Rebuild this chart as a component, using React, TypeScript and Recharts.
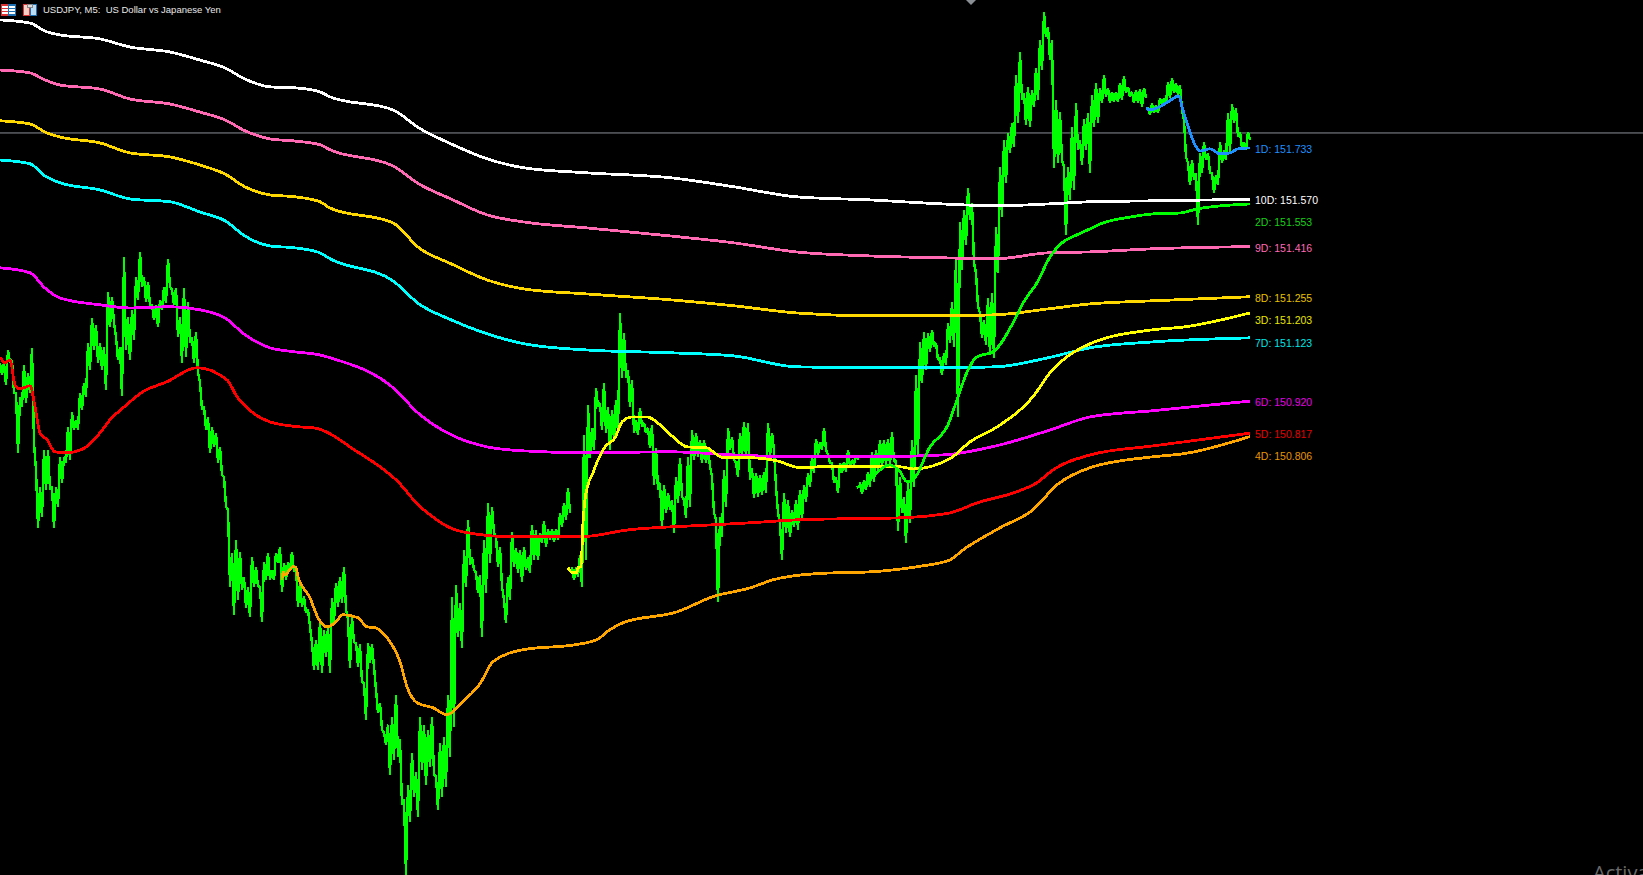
import React from 'react';
import { LineChart, Line, XAxis, YAxis, ReferenceLine, ReferenceDot } from 'recharts';

// USDJPY M5, one high/low pair for every 4 time slots, starting at slot 0
const barHighs = [
  151.043, 151.043, 151.084, 151.052, 150.946, 150.934, 151.036, 151.011, 151.091, 150.699, 150.645, 150.763, 150.763, 150.645, 150.645, 150.741,
  150.741, 150.837, 150.885, 150.860, 150.946, 150.979, 151.107, 151.187, 151.165, 151.107, 151.094, 151.271, 151.255, 151.126, 151.094, 151.383,
  151.190, 151.213, 151.319, 151.399, 151.319, 151.303, 151.229, 151.229, 151.245, 151.287, 151.377, 151.277, 151.284, 151.190, 151.284, 151.239,
  151.126, 151.142, 150.979, 150.902, 150.869, 150.837, 150.818, 150.773, 150.677, 150.571, 150.433, 150.475, 150.436, 150.356, 150.324, 150.420,
  150.388, 150.324, 150.404, 150.433, 150.378, 150.433, 150.452, 150.401, 150.401, 150.436, 150.388, 150.337, 150.292, 150.250, 150.144, 150.154,
  150.218, 150.186, 150.195, 150.288, 150.337, 150.356, 150.388, 150.218, 150.227, 150.144, 150.138, 150.016, 150.144, 150.138, 149.993, 149.951,
  149.855, 149.881, 149.906, 149.977, 149.833, 149.640, 149.688, 149.791, 149.727, 149.906, 149.881, 149.865, 149.906, 149.714, 149.823, 149.842,
  149.977, 150.292, 150.330, 150.272, 150.442, 150.539, 150.420, 150.369, 150.362, 150.475, 150.593, 150.581, 150.484, 150.452, 150.282, 150.356,
  150.500, 150.449, 150.442, 150.452, 150.420, 150.523, 150.507, 150.497, 150.536, 150.507, 150.507, 150.507, 150.561, 150.593, 150.642, 150.388,
  150.385, 150.426, 150.812, 150.908, 150.834, 150.963, 150.914, 150.979, 150.902, 150.892, 150.924, 151.203, 151.139, 151.020, 150.988, 150.860,
  150.898, 150.850, 150.834, 150.844, 150.770, 150.658, 150.651, 150.625, 150.603, 150.677, 150.738, 150.603, 150.741, 150.828, 150.818, 150.796,
  150.796, 150.773, 150.677, 150.539, 150.548, 150.699, 150.834, 150.805, 150.722, 150.818, 150.853, 150.850, 150.706, 150.690, 150.683, 150.693,
  150.850, 150.818, 150.645, 150.529, 150.625, 150.603, 150.571, 150.603, 150.635, 150.651, 150.690, 150.741, 150.799, 150.789, 150.834, 150.747,
  150.722, 150.674, 150.722, 150.725, 150.763, 150.731, 150.747, 150.661, 150.667, 150.693, 150.757, 150.763, 150.796, 150.796, 150.799, 150.821,
  150.731, 150.677, 150.613, 150.658, 150.796, 151.004, 151.110, 151.142, 151.139, 151.149, 151.107, 151.059, 151.075, 151.171, 151.239, 151.383,
  151.495, 151.534, 151.605, 151.556, 151.332, 151.203, 151.181, 151.251, 151.267, 151.479, 151.672, 151.759, 151.781, 151.813, 151.967, 152.041,
  151.909, 151.929, 151.919, 151.990, 152.080, 152.169, 152.121, 152.080, 151.887, 151.848, 151.672, 151.672, 151.800, 151.877, 151.759, 151.826,
  151.845, 151.903, 151.942, 151.926, 151.967, 151.926, 151.913, 151.913, 151.942, 151.964, 151.929, 151.913, 151.919, 151.922, 151.926, 151.865,
  151.877, 151.871, 151.893, 151.893, 151.945, 151.958, 151.942, 151.935, 151.823, 151.685, 151.694, 151.653, 151.717, 151.752, 151.717, 151.653,
  151.646, 151.752, 151.726, 151.845, 151.874, 151.861, 151.784, 151.752, 151.784,
];
const barLows = [
  151.004, 150.972, 151.043, 150.946, 150.754, 150.902, 150.914, 150.946, 150.786, 150.513, 150.548, 150.635, 150.635, 150.513, 150.581, 150.658,
  150.722, 150.731, 150.828, 150.828, 150.892, 150.934, 151.020, 151.084, 151.043, 151.020, 150.956, 151.158, 151.171, 151.052, 150.937, 151.084,
  151.052, 151.117, 151.245, 151.287, 151.239, 151.229, 151.181, 151.158, 151.213, 151.235, 151.287, 151.229, 151.126, 151.043, 151.062, 151.107,
  151.043, 151.011, 150.892, 150.828, 150.754, 150.773, 150.722, 150.683, 150.581, 150.324, 150.234, 150.282, 150.314, 150.256, 150.227, 150.324,
  150.324, 150.211, 150.346, 150.346, 150.346, 150.401, 150.308, 150.346, 150.378, 150.372, 150.260, 150.260, 150.240, 150.195, 150.057, 150.057,
  150.048, 150.099, 150.048, 150.208, 150.260, 150.272, 150.250, 150.064, 150.144, 150.067, 150.016, 149.897, 150.080, 150.067, 149.919, 149.865,
  149.817, 149.720, 149.768, 149.778, 149.624, 149.399, 149.569, 149.650, 149.585, 149.736, 149.688, 149.746, 149.720, 149.608, 149.650, 149.682,
  149.778, 149.874, 150.163, 150.128, 150.324, 150.394, 150.378, 150.304, 150.163, 150.304, 150.401, 150.497, 150.388, 150.324, 150.208, 150.282,
  150.388, 150.369, 150.340, 150.378, 150.369, 150.410, 150.410, 150.465, 150.452, 150.475, 150.468, 150.475, 150.516, 150.539, 150.561, 150.346,
  150.356, 150.324, 150.410, 150.738, 150.763, 150.902, 150.828, 150.818, 150.763, 150.796, 150.818, 150.995, 150.995, 150.902, 150.818, 150.812,
  150.837, 150.818, 150.770, 150.651, 150.635, 150.516, 150.561, 150.571, 150.497, 150.593, 150.613, 150.545, 150.581, 150.731, 150.741, 150.722,
  150.722, 150.709, 150.561, 150.276, 150.484, 150.581, 150.763, 150.731, 150.677, 150.741, 150.741, 150.667, 150.609, 150.613, 150.619, 150.625,
  150.741, 150.763, 150.561, 150.410, 150.497, 150.484, 150.516, 150.507, 150.539, 150.597, 150.645, 150.690, 150.747, 150.763, 150.763, 150.722,
  150.658, 150.625, 150.690, 150.693, 150.709, 150.715, 150.731, 150.622, 150.635, 150.645, 150.661, 150.699, 150.709, 150.715, 150.715, 150.725,
  150.503, 150.561, 150.465, 150.529, 150.645, 150.741, 150.979, 151.020, 151.078, 151.094, 151.052, 151.004, 151.036, 151.107, 151.094, 150.869,
  151.341, 151.422, 151.502, 151.364, 151.223, 151.123, 151.101, 151.068, 151.059, 151.332, 151.511, 151.621, 151.717, 151.736, 151.813, 151.887,
  151.807, 151.800, 151.865, 151.887, 151.983, 152.089, 152.015, 151.669, 151.685, 151.694, 151.454, 151.566, 151.598, 151.726, 151.678, 151.726,
  151.653, 151.800, 151.813, 151.877, 151.897, 151.877, 151.881, 151.881, 151.887, 151.909, 151.897, 151.877, 151.877, 151.865, 151.893, 151.839,
  151.845, 151.845, 151.871, 151.877, 151.893, 151.909, 151.903, 151.855, 151.704, 151.614, 151.630, 151.486, 151.653, 151.694, 151.653, 151.588,
  151.614, 151.685, 151.694, 151.720, 151.813, 151.768, 151.733, 151.726, 151.759,
];
// price feed has a hole just before these bars (new session)
const sessionBreaks = [143, 215, 287];

// 6 to 10 day VWAPs are anchored before the chart and share their sample slots
const longSlots = [0, 30, 45, 60, 100, 130, 170, 200, 225, 245, 270, 295, 320, 330, 393, 419, 451, 487, 524, 587, 671, 734, 796, 870, 943, 996, 1048, 1090, 1153, 1250];
const vwap10 = [152.144, 152.134, 152.108, 152.096, 152.083, 152.057, 152.041, 152.015, 151.990, 151.954, 151.929, 151.926, 151.913, 151.897, 151.855, 151.797, 151.746, 151.698, 151.669, 151.653, 151.637, 151.608, 151.576, 151.566, 151.553, 151.547, 151.553, 151.560, 151.563, 151.568];
const vwap9 = [151.983, 151.974, 151.951, 151.935, 151.922, 151.890, 151.874, 151.848, 151.823, 151.788, 151.762, 151.755, 151.743, 151.727, 151.675, 151.617, 151.569, 151.518, 151.495, 151.476, 151.450, 151.428, 151.399, 151.386, 151.380, 151.377, 151.396, 151.399, 151.409, 151.416];
const vwap8 = [151.820, 151.810, 151.784, 151.768, 151.749, 151.717, 151.704, 151.678, 151.649, 151.608, 151.582, 151.576, 151.560, 151.540, 151.492, 151.412, 151.361, 151.309, 151.280, 151.264, 151.245, 151.226, 151.203, 151.194, 151.194, 151.197, 151.216, 151.232, 151.242, 151.255];
const vwap7 = [151.694, 151.682, 151.643, 151.621, 151.598, 151.569, 151.560, 151.527, 151.499, 151.450, 151.418, 151.412, 151.396, 151.377, 151.306, 151.232, 151.181, 151.136, 151.104, 151.084, 151.075, 151.065, 151.030, 151.027, 151.027, 151.030, 151.059, 151.091, 151.110, 151.123];
const vwap6 = [151.348, 151.332, 151.283, 151.251, 151.229, 151.219, 151.223, 151.213, 151.187, 151.133, 151.091, 151.078, 151.068, 151.059, 150.963, 150.879, 150.812, 150.773, 150.760, 150.754, 150.757, 150.747, 150.741, 150.741, 150.747, 150.776, 150.825, 150.869, 150.889, 150.920];

const slots5 = [0, 5, 10, 15, 20, 30, 35, 40, 47, 55, 67, 85, 100, 110, 123, 143, 167, 197, 227, 237, 253, 270, 300, 314, 356, 398, 419, 430, 450, 463, 513, 580, 630, 697, 750, 800, 900, 950, 977, 1017, 1037, 1053, 1090, 1153, 1184, 1250];
const vwap5 = [151.062, 151.043, 151.052, 150.972, 150.959, 150.969, 150.902, 150.818, 150.796, 150.757, 150.754, 150.770, 150.818, 150.860, 150.898, 150.950, 150.982, 151.027, 150.988, 150.934, 150.882, 150.853, 150.837, 150.834, 150.760, 150.661, 150.584, 150.555, 150.513, 150.500, 150.484, 150.484, 150.507, 150.520, 150.529, 150.539, 150.545, 150.561, 150.593, 150.629, 150.658, 150.699, 150.747, 150.776, 150.789, 150.817];

const slots4 = [282, 283, 285, 293, 296, 298, 310, 318, 327, 335, 343, 358, 367, 375, 387, 400, 407, 417, 433, 447, 450, 463, 480, 493, 524, 576, 597, 610, 623, 677, 713, 750, 773, 817, 873, 917, 950, 963, 1000, 1033, 1057, 1090, 1153, 1184, 1250];
const vwap4 = [150.346, 150.372, 150.362, 150.388, 150.385, 150.356, 150.288, 150.224, 150.195, 150.208, 150.234, 150.224, 150.195, 150.192, 150.160, 150.083, 150.003, 149.951, 149.935, 149.913, 149.916, 149.955, 150.012, 150.083, 150.122, 150.138, 150.154, 150.186, 150.208, 150.243, 150.292, 150.320, 150.346, 150.366, 150.372, 150.388, 150.410, 150.442, 150.513, 150.571, 150.651, 150.706, 150.741, 150.751, 150.806];

const slots3 = [568, 572, 577, 578, 581, 583, 585, 588, 593, 598, 605, 615, 622, 632, 647, 660, 673, 687, 707, 713, 723, 750, 777, 800, 823, 900, 913, 950, 970, 997, 1033, 1050, 1063, 1090, 1153, 1184, 1250];
const vwap3 = [150.385, 150.369, 150.369, 150.385, 150.388, 150.529, 150.603, 150.651, 150.690, 150.731, 150.773, 150.802, 150.853, 150.869, 150.869, 150.844, 150.805, 150.773, 150.770, 150.757, 150.738, 150.738, 150.728, 150.706, 150.709, 150.709, 150.702, 150.735, 150.789, 150.837, 150.934, 151.011, 151.052, 151.104, 151.149, 151.158, 151.203];

const slots2 = [857, 870, 880, 890, 900, 907, 913, 930, 948, 957, 968, 977, 993, 1013, 1023, 1037, 1050, 1062, 1077, 1090, 1103, 1130, 1153, 1180, 1197, 1250];
const vwap2 = [150.642, 150.667, 150.699, 150.715, 150.693, 150.661, 150.667, 150.773, 150.844, 150.924, 151.020, 151.062, 151.078, 151.171, 151.235, 151.300, 151.383, 151.428, 151.454, 151.473, 151.492, 151.511, 151.521, 151.524, 151.537, 151.553];

const slots1 = [1146, 1150, 1157, 1168, 1179, 1182, 1187, 1195, 1200, 1210, 1220, 1230, 1238, 1250];
const vwap1 = [151.861, 151.855, 151.861, 151.881, 151.900, 151.865, 151.813, 151.743, 151.723, 151.730, 151.714, 151.717, 151.730, 151.733];

const lineNames = ['1D', '10D', '2D', '9D', '8D', '3D', '7D', '6D', '5D', '4D'];
const lineValues = ['151.733', '151.570', '151.553', '151.416', '151.255', '151.203', '151.123', '150.920', '150.817', '150.806'];
// where the text sits on the price scale, the tags push each other apart
const tagPrices = [151.730, 151.566, 151.495, 151.412, 151.251, 151.181, 151.107, 150.915, 150.812, 150.744];

const WIDTH = 1643;
const HEIGHT = 875;
const PRICE_TOP = 152.208;
const PRICE_BOTTOM = 149.398;
const LAST_SLOT = 1250;
const CURRENT_PRICE = 151.781;
const FONT = '"Liberation Sans", Arial, sans-serif';

const toRows = (slots: number[], prices: number[]) => slots.map((slot, i) => ({ slot, price: prices[i] }));

const priceRows: { slot: number; price: number | null }[] = [];
barHighs.forEach((high, i) => {
  if (sessionBreaks.includes(i)) priceRows.push({ slot: i * 4 - 1, price: null });
  priceRows.push({ slot: i * 4, price: high });
  priceRows.push({ slot: i * 4 + 2, price: barLows[i] });
});

const vwapLines = [
  { id: '4D', color: '#ffa500', rows: toRows(slots4, vwap4) },
  { id: '5D', color: '#ff0000', rows: toRows(slots5, vwap5) },
  { id: '6D', color: '#ff00ff', rows: toRows(longSlots, vwap6) },
  { id: '7D', color: '#00ffff', rows: toRows(longSlots, vwap7) },
  { id: '8D', color: '#ffd700', rows: toRows(longSlots, vwap8) },
  { id: '9D', color: '#ff69b4', rows: toRows(longSlots, vwap9) },
  { id: '10D', color: '#ffffff', rows: toRows(longSlots, vwap10) },
  { id: '3D', color: '#ffff00', rows: toRows(slots3, vwap3) },
  { id: '2D', color: '#00ff00', rows: toRows(slots2, vwap2) },
  { id: '1D', color: '#1e90ff', rows: toRows(slots1, vwap1) },
];

const tagColors: Record<string, string> = {
  '1D': '#1e90ff',
  '10D': '#ffffff',
  '2D': '#18d018',
  '9D': '#ff69b4',
  '8D': '#e6c200',
  '3D': '#e6e600',
  '7D': '#00e6e6',
  '6D': '#e600e6',
  '5D': '#e60000',
  '4D': '#e69500',
};

const box = (left: number, top: number, width: number, height: number, extra: React.CSSProperties): React.CSSProperties => ({
  position: 'absolute',
  left,
  top,
  width,
  height,
  boxSizing: 'border-box',
  ...extra,
});

const stripes = (color: string) => `repeating-linear-gradient(to bottom, ${color} 0 1px, #fff 1px 3px)`;

export default function App() {
  return (
    <div style={{ position: 'absolute', left: 0, top: 0, width: WIDTH, height: HEIGHT, background: '#000', overflow: 'hidden' }}>
      <LineChart width={WIDTH} height={HEIGHT} margin={{ top: 0, right: 0, bottom: 0, left: 0 }}>
        <XAxis dataKey="slot" type="number" domain={[0, WIDTH]} hide allowDataOverflow />
        <YAxis type="number" domain={[PRICE_BOTTOM, PRICE_TOP]} hide allowDataOverflow />
        <ReferenceLine y={CURRENT_PRICE} stroke="#8a8f96" strokeWidth={1} />
        <Line
          data={priceRows}
          dataKey="price"
          type="linear"
          stroke="#00ff00"
          strokeWidth={2.4}
          strokeLinejoin="bevel"
          shapeRendering="crispEdges"
          dot={false}
          activeDot={false}
          connectNulls={false}
          isAnimationActive={false}
        />
        {vwapLines.map((line) => (
          <Line
            key={line.id}
            data={line.rows}
            dataKey="price"
            type="monotone"
            stroke={line.color}
            strokeWidth={2.8}
            shapeRendering="crispEdges"
            dot={false}
            activeDot={false}
            isAnimationActive={false}
          />
        ))}
        {lineNames.map((name, i) => (
          <ReferenceDot
            key={name}
            x={LAST_SLOT}
            y={tagPrices[i]}
            r={0}
            fill="none"
            stroke="none"
            label={{
              value: `${name}: ${lineValues[i]}`,
              position: 'right',
              fill: tagColors[name],
              fontSize: 10.5,
              fontFamily: FONT,
            }}
          />
        ))}
      </LineChart>

      <div style={box(1, 4, 8, 12, { background: stripes('#d33'), border: '1px solid #d33' })} />
      <div style={box(8, 4, 8, 12, { background: stripes('#1c6fb0'), border: '1px solid #1c6fb0' })} />
      <div style={box(23, 4, 7, 12, { background: '#f8cfc4', border: '1px solid #d33' })} />
      <div style={box(30, 4, 7, 12, { background: '#bcdcf4', border: '1px solid #1c6fb0' })} />
      <div style={box(27, 4, 6, 4, { background: '#ddd', border: '1px solid #888' })} />
      <div
        style={{
          position: 'absolute',
          left: 43,
          top: 3,
          color: '#e8e8e8',
          fontFamily: FONT,
          fontSize: 9.5,
          lineHeight: '13px',
          whiteSpace: 'pre',
        }}
      >
        USDJPY, M5:  US Dollar vs Japanese Yen
      </div>
      <div
        style={{
          position: 'absolute',
          left: 971 - 5,
          top: 0,
          width: 0,
          height: 0,
          borderLeft: '5px solid transparent',
          borderRight: '5px solid transparent',
          borderTop: '5px solid #8a8f96',
        }}
      />
      <div
        style={{
          position: 'absolute',
          left: 1593,
          top: 860,
          color: '#6a6a6a',
          fontFamily: '"Open Sans", sans-serif',
          fontSize: 20,
          lineHeight: '26px',
          whiteSpace: 'pre',
        }}
      >
        Activa
      </div>
    </div>
  );
}
